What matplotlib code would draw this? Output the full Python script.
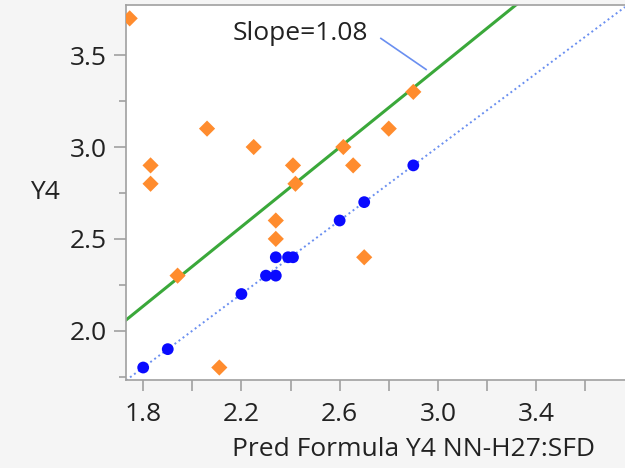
import numpy as np
import matplotlib.pyplot as plt
from matplotlib.ticker import FixedLocator

plt.rcParams['font.family'] = ['Open Sans', 'DejaVu Sans']

# Blue points: on the fitted diagonal
blue_x = [1.80, 1.90, 2.20, 2.30, 2.34, 2.34, 2.39, 2.41, 2.60, 2.70, 2.90]
blue_y = [1.80, 1.90, 2.20, 2.30, 2.30, 2.40, 2.40, 2.40, 2.60, 2.70, 2.90]

# Orange diamonds: actual Y4
orange_x = [1.745, 1.83, 1.83, 2.06, 2.25, 2.41, 2.42, 2.34, 2.34, 1.94, 2.11,
            2.90, 2.80, 2.615, 2.655, 2.70]
orange_y = [3.70, 2.90, 2.80, 3.10, 3.00, 2.90, 2.80, 2.60, 2.50, 2.30, 1.80,
            3.30, 3.10, 3.00, 2.90, 2.40]

x_major = [1.8, 2.2, 2.6, 3.0, 3.4]
x_minor = [2.0, 2.4, 2.8, 3.2, 3.6]
y_major = [2.0, 2.5, 3.0, 3.5]
y_minor = [1.75, 2.25, 2.75, 3.25]

slope = 1.08
intercept = 0.19

x_min, x_max = 1.73, 3.762
y_min, y_max = 1.732, 3.772

fig = plt.figure(figsize=(6.25, 4.68), dpi=100, facecolor='#f5f5f5')
ax = fig.add_axes([0.2016, 0.188, 0.7984, 0.801])
ax.set_facecolor('white')

# reference y = x line
ax.plot([x_min, x_max], [x_min, x_max], linestyle=(0, (1, 1.6)), color='#6a8ff0', lw=1.4, zorder=1)

# fitted line
xs = np.array([x_min, x_max])
ax.plot(xs, slope * xs + intercept, color='#3aa83a', lw=2.2, zorder=2)

ax.scatter(orange_x, orange_y, marker='D', s=68, color='#ff8c2e', edgecolors='none', zorder=3)
ax.scatter(blue_x, blue_y, marker='o', s=72, color='#0a0aff', edgecolors='none', zorder=4)

ax.text(2.44, 3.618, 'Slope=1.08', fontsize=19, color='#222222', ha='center', va='center')
ax.plot([2.768, 2.952], [3.591, 3.422], color='#6a8ff0', lw=1.2, zorder=2)

ax.set_xlim(x_min, x_max)
ax.set_ylim(y_min, y_max)

ax.xaxis.set_major_locator(FixedLocator(x_major))
ax.xaxis.set_minor_locator(FixedLocator(x_minor))
ax.yaxis.set_major_locator(FixedLocator(y_major))
ax.yaxis.set_minor_locator(FixedLocator(y_minor))
ax.xaxis.set_major_formatter(lambda v, p: f'{v:.1f}')
ax.yaxis.set_major_formatter(lambda v, p: f'{v:.1f}')

for s in ['left', 'bottom', 'top']:
    ax.spines[s].set_color('#a0a0a0')
    ax.spines[s].set_linewidth(1.2)
ax.spines['right'].set_visible(False)

ax.tick_params(axis='both', which='both', color='#a0a0a0', width=1.2, labelsize=19,
               labelcolor='#222222')
ax.tick_params(axis='x', which='both', length=8, pad=8)
ax.tick_params(axis='y', which='major', length=9, pad=5)
ax.tick_params(axis='y', which='minor', length=5)

ax.set_xlabel('Pred Formula Y4 NN-H27:SFD', fontsize=19, color='#222222')
ax.xaxis.set_label_coords(0.577, -0.152)
ax.set_ylabel('Y4', fontsize=19, color='#222222', rotation=0, labelpad=0)
ax.yaxis.set_label_coords(-0.162, 0.466)

fig.savefig('out.png', dpi=100, facecolor=fig.get_facecolor())
